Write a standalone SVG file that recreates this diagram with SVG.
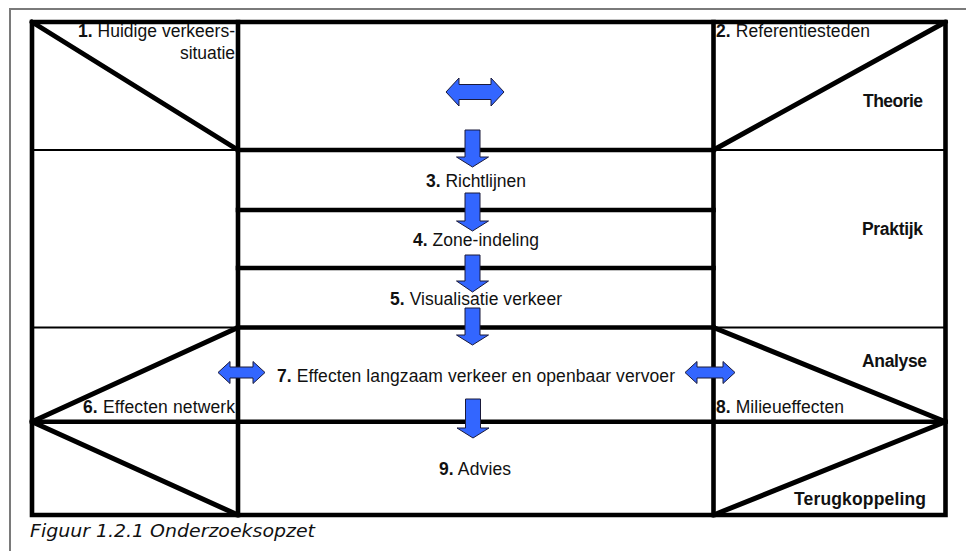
<svg xmlns="http://www.w3.org/2000/svg" width="966" height="551" viewBox="0 0 966 551">
<style>
.frame{fill:none;stroke:#7a7a7a;stroke-width:2}
.thick{fill:none;stroke:#000;stroke-width:4.6;stroke-linecap:square}
.thin{fill:none;stroke:#000;stroke-width:2}
.diag{fill:none;stroke:#000;stroke-width:5;stroke-linecap:round;stroke-linejoin:round}
.arrow{fill:#3366ff;stroke:#1a1a3a;stroke-width:1;stroke-linejoin:miter}
text{font-family:"Liberation Sans",Arial,sans-serif;font-size:17.5px;fill:#111}
.b{font-weight:bold}
.cap{font-family:"DejaVu Sans",Verdana,sans-serif;font-style:italic;font-size:17px}
</style>
<rect width="966" height="551" fill="#fff"/>
<g id="frame">
<path class="frame" d="M10,551 V9 H966"/>
</g>
<g id="grid">
<path class="thin" d="M32,150 H238 M713.5,150 H945.5 M32,327.5 H238 M713.5,327.5 H945.5"/>
<path class="thick" d="M32,22 H945.5 V515 H32 Z"/>
<path class="thick" d="M238,22 V515 M713.5,22 V515"/>
<path class="thick" d="M238,150 H713.5 M238,210 H713.5 M238,268 H713.5 M238,327.5 H713.5 M32,421.8 H945.5"/>
</g>
<g id="diagonals">
<path class="diag" d="M32,22 L238,150"/>
<path class="diag" d="M945.5,22 L713.5,150"/>
<path class="diag" d="M238,327.5 L32,421.8 L238,515"/>
<path class="diag" d="M713.5,327.5 L945.5,421.8 L713.5,515"/>
</g>
<g id="n1"><text x="235" y="36.5" text-anchor="end" textLength="157" lengthAdjust="spacing"><tspan class="b">1.</tspan> Huidige verkeers-</text>
<text x="235" y="58.5" text-anchor="end" textLength="55" lengthAdjust="spacing">situatie</text></g>
<g id="n2"><text x="716" y="36.5" textLength="154" lengthAdjust="spacing"><tspan class="b">2.</tspan> Referentiesteden</text></g>
<g id="theorie"><text class="b" x="863" y="107" textLength="60" lengthAdjust="spacing">Theorie</text></g>
<g id="praktijk"><text class="b" x="862" y="235" textLength="61" lengthAdjust="spacing">Praktijk</text></g>
<g id="analyse"><text class="b" x="862" y="367" textLength="65" lengthAdjust="spacing">Analyse</text></g>
<g id="terugkoppeling"><text class="b" x="794" y="505" textLength="132" lengthAdjust="spacing">Terugkoppeling</text></g>
<g id="n3"><text x="426" y="186.5" textLength="100" lengthAdjust="spacing"><tspan class="b">3.</tspan> Richtlijnen</text></g>
<g id="n4"><text x="413" y="246" textLength="126" lengthAdjust="spacing"><tspan class="b">4.</tspan> Zone-indeling</text></g>
<g id="n5"><text x="390" y="305" textLength="172" lengthAdjust="spacing"><tspan class="b">5.</tspan> Visualisatie verkeer</text></g>
<g id="n6"><text x="83" y="413" textLength="152" lengthAdjust="spacing"><tspan class="b">6.</tspan> Effecten netwerk</text></g>
<g id="n7"><text x="277" y="381.5" textLength="398" lengthAdjust="spacing"><tspan class="b">7.</tspan> Effecten langzaam verkeer en openbaar vervoer</text></g>
<g id="n8"><text x="716" y="413" textLength="128" lengthAdjust="spacing"><tspan class="b">8.</tspan> Milieueffecten</text></g>
<g id="n9"><text x="439" y="475" textLength="72" lengthAdjust="spacing"><tspan class="b">9.</tspan> Advies</text></g>
<g id="connectors">
<path class="arrow" d="M446,92 L459,78 V84.5 H491 V78 L504,92 L491,106 V99.5 H459 V106 Z"/>
<path class="arrow" d="M465,130 H480 V157 H488.5 L472.5,167 L456.5,157 H465 Z"/>
<path class="arrow" d="M465,193 H480 V221 H488.5 L472.5,231 L456.5,221 H465 Z"/>
<path class="arrow" d="M465,255 H480 V281 H488.5 L472.5,292 L456.5,281 H465 Z"/>
<path class="arrow" d="M465,308 H480 V335 H488.5 L472.5,345 L456.5,335 H465 Z"/>
<path class="arrow" d="M465.5,399 H480.5 V428 H489 L473,438 L457,428 H465.5 Z"/>
<path class="arrow" d="M218,372.5 L230,361.5 V367 H253 V361.5 L265,372.5 L253,383.5 V378 H230 V383.5 Z"/>
<path class="arrow" d="M685,372.5 L697,361.5 V367 H723 V361.5 L735,372.5 L723,383.5 V378 H697 V383.5 Z"/>
</g>
<g id="caption"><text class="cap" x="30" y="537" textLength="285" lengthAdjust="spacingAndGlyphs">Figuur 1.2.1 Onderzoeksopzet</text></g>
</svg>
